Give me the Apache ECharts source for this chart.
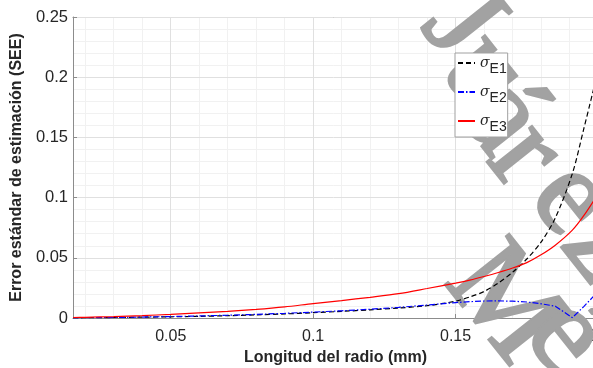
<!DOCTYPE html>
<html>
<head>
<meta charset="utf-8">
<script src="https://cdn.jsdelivr.net/npm/echarts@6/dist/echarts.min.js"></script>
<style>
html,body{margin:0;padding:0;background:#fff;overflow:hidden;}
#c{width:593px;height:368px;}
</style>
</head>
<body>
<div id="c"></div>
<script>
// Data
var xs = [0.0157, 0.02, 0.03, 0.04, 0.05, 0.06, 0.07, 0.08, 0.09, 0.10, 0.11, 0.12, 0.13, 0.14, 0.15, 0.155, 0.16, 0.165, 0.17, 0.175, 0.18, 0.185, 0.191, 0.195, 0.2];
var sigmaE1 = [0.0001,0.0002,0.0004,0.0007,0.001,0.0014,0.0019,0.0026,0.0034,0.0044,0.0055,0.0068,0.0083,0.0102,0.014,0.0175,0.022,0.029,0.038,0.049,0.063,0.083,0.12,0.157,0.205];
var sigmaE2 = [0.0001,0.0002,0.0004,0.0008,0.0012,0.0017,0.0023,0.003,0.0039,0.0049,0.006,0.0073,0.0088,0.0108,0.0128,0.0136,0.0141,0.0142,0.014,0.0133,0.0118,0.0098,0.0003,0.0095,0.0218];
var sigmaE3 = [0.0004,0.0006,0.0012,0.002,0.003,0.0042,0.0055,0.0071,0.0092,0.012,0.0145,0.0172,0.0202,0.0245,0.029,0.0315,0.0345,0.0378,0.0415,0.046,0.0525,0.0605,0.073,0.085,0.103];
var seriesNames = ['E1', 'E2', 'E3'];
var xTitle = 'Longitud del radio (mm)';
var yTitle = 'Error estándar de estimación (SEE)';
var watermarkLetters = ['J', 'u', 'á', 'r', 'e', 'z', 'M', 'é'];
var watermarkPos = [[460,25],[484,74],[501,118],[524,156],[570,199],[602,246],[503,305],[565,336]];

function pairs(v){ return xs.map(function(x,i){ return [x, v[i]]; }); }

var axisCol = '#8c8c8c';
var txtCol = '#262626';
var font = '"Liberation Sans", Arial, sans-serif';

var chart = echarts.init(document.getElementById('c'), null, {renderer:'canvas'});
chart.setOption({
  animation: false,
  backgroundColor: '#fff',
  grid: {left: 73, top: 17, width: 525, height: 301, containLabel: false, outerBoundsMode: 'none'},
  xAxis: [{
    type: 'value', min: 0.0157, max: 0.2, splitNumber: 4,
    name: xTitle, nameLocation: 'middle', nameGap: 31,
    nameTextStyle: {fontSize: 16, fontWeight: 'bold', color: txtCol, fontFamily: font},
    axisLine: {show: true, lineStyle: {color: axisCol, width: 1}},
    axisTick: {show: true, inside: true, length: 4, lineStyle: {color: axisCol}},
    axisLabel: {showMinLabel: false, fontSize: 16, color: txtCol, fontFamily: font, margin: 11},
    splitLine: {show: true, lineStyle: {color: '#e0e0e0', width: 1}},
    z: 0
  }, {
    type: 'value', min: 0.0157, max: 0.2, splitNumber: 18, position: 'top',
    axisLine: {show: true, onZero: false, lineStyle: {color: axisCol, width: 1}},
    axisTick: {show: false}, axisLabel: {show: false},
    splitLine: {show: true, lineStyle: {color: '#f1f1f1', width: 1}},
    z: -1
  }],
  yAxis: {
    type: 'value', min: 0, max: 0.25, interval: 0.05,
    name: yTitle, nameLocation: 'middle', nameGap: 46,
    nameTextStyle: {fontSize: 16, fontWeight: 'bold', color: txtCol, fontFamily: font},
    axisLine: {show: true, lineStyle: {color: axisCol, width: 1}},
    axisTick: {show: true, inside: true, length: 4, lineStyle: {color: axisCol}},
    axisLabel: {fontSize: 16.5, color: txtCol, fontFamily: font, margin: 5},
    splitLine: {show: true, lineStyle: {color: '#e0e0e0', width: 1}},
    minorTick: {show: false, splitNumber: 5},
    minorSplitLine: {show: true, lineStyle: {color: '#f1f1f1', width: 1}}
  },
  legend: {
    left: 455, top: 53, orient: 'vertical', z: 4,
    itemWidth: 17, itemHeight: 10, itemGap: 9,
    padding: [3, 1, 3, 2],
    borderColor: '#a0a0a0', borderWidth: 1, backgroundColor: '#fff',
    itemStyle: {opacity: 0},
    data: seriesNames,
    formatter: function(n){ return '{s|σ}{sub|' + n + '}'; },
    textStyle: {
      color: txtCol, fontFamily: font,
      rich: {
        s: {fontSize: 14, fontStyle: 'italic', fontFamily: '"DejaVu Serif", serif', color: txtCol, lineHeight: 26, verticalAlign: 'middle'},
        sub: {fontSize: 14, fontFamily: font, color: txtCol, lineHeight: 2, verticalAlign: 'bottom'}
      }
    }
  },
  graphic: watermarkLetters.map(function(t, i){
    return {type: 'text', x: watermarkPos[i][0], y: watermarkPos[i][1], rotation: -0.9, z: 2, silent: true,
      style: {text: t, fontSize: 124, fontFamily: '"Liberation Serif", serif', fill: '#a2a2a2', stroke: '#a2a2a2', lineWidth: 3, align: 'center', verticalAlign: 'middle'}};
  }),
  series: [
    {name: 'E1', type: 'line', data: pairs(sigmaE1), symbol: 'none', smooth: 0.3, z: 3,
     lineStyle: {color: '#000000', width: 1.2, type: [5, 3]}, itemStyle: {color: '#000000'}},
    {name: 'E2', type: 'line', data: pairs(sigmaE2), symbol: 'none', smooth: false, z: 3,
     lineStyle: {color: '#0000ff', width: 1.2, type: [6, 2, 1.5, 2]}, itemStyle: {color: '#0000ff'}},
    {name: 'E3', type: 'line', data: pairs(sigmaE3), symbol: 'none', smooth: 0.3, z: 3,
     lineStyle: {color: '#ff0000', width: 1.2}, itemStyle: {color: '#ff0000'}}
  ]
});
</script>
</body>
</html>
